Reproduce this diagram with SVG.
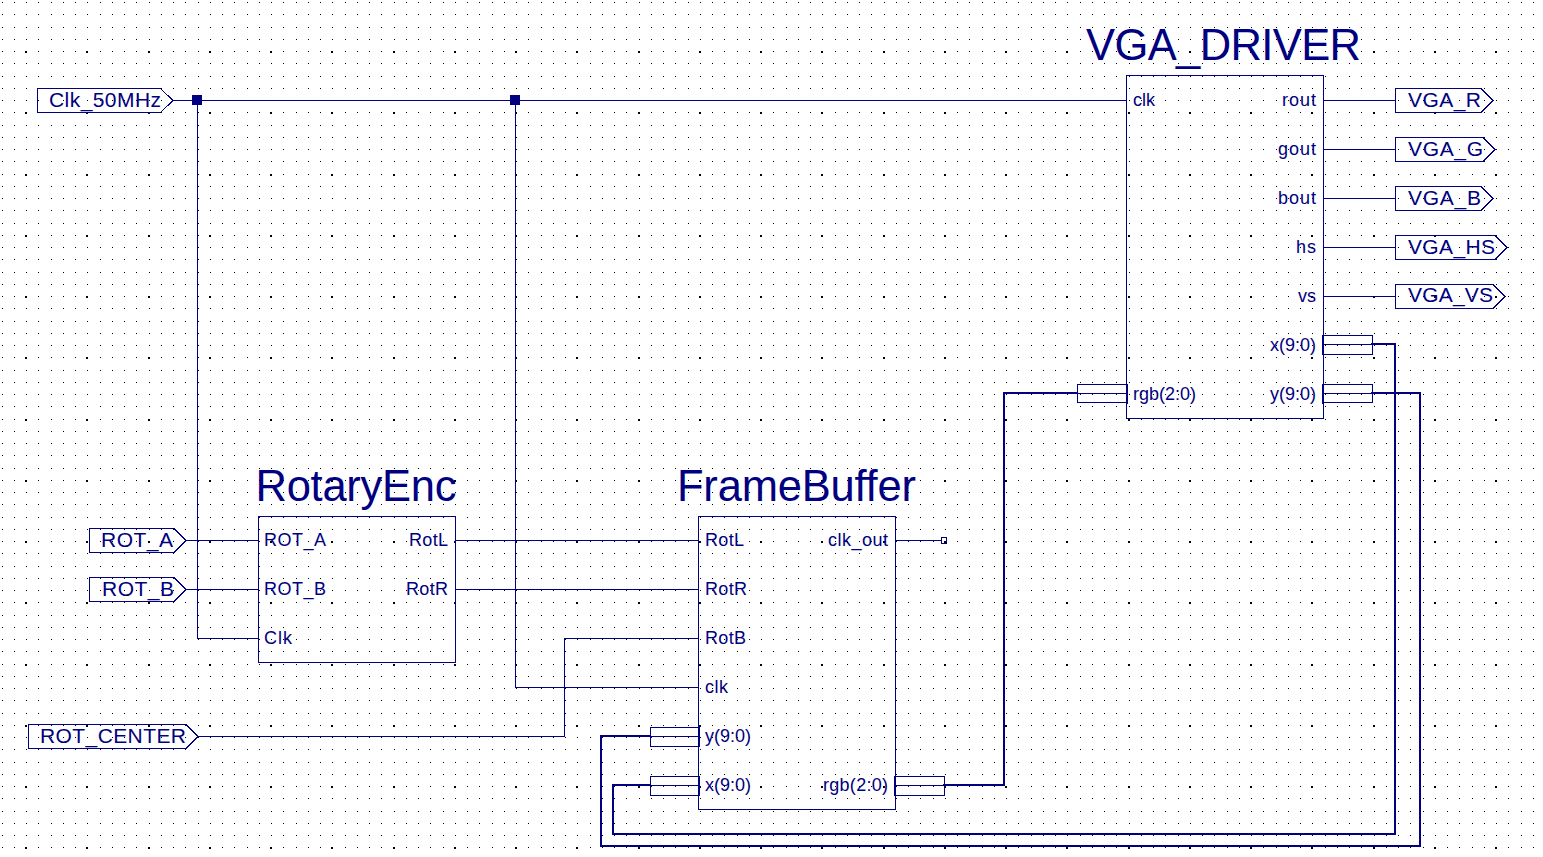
<svg xmlns="http://www.w3.org/2000/svg" width="1543" height="857" viewBox="0 0 1543 857">
<style>
text{font-family:"Liberation Sans",Arial,sans-serif;fill:#000080}
.t{font-size:43.5px}
.p{font-size:18px}
.e{text-anchor:end}
.l{font-size:21px}
.b,.w{fill:none;stroke:#000080;stroke-width:1;shape-rendering:crispEdges}
.bus{fill:none;stroke:#000080;stroke-width:2;shape-rendering:crispEdges}
.edge{fill:none;stroke:#000080;stroke-width:2;shape-rendering:crispEdges}
.j{fill:#000080;shape-rendering:crispEdges}
</style>
<rect width="1543" height="857" fill="#fff"/>
<defs>
<path id="row" d="M1.5 0H1543"/>
</defs>
<g id="grid" shape-rendering="crispEdges" fill="none" stroke="#000">
<g stroke-width="1" stroke-dasharray="1 11.25" id="small">
<use href="#row" y="2.5"/><use href="#row" y="14.75"/><use href="#row" y="27"/><use href="#row" y="39.25"/><use href="#row" y="51.5"/><use href="#row" y="63.75"/><use href="#row" y="76"/><use href="#row" y="88.25"/><use href="#row" y="100.5"/><use href="#row" y="112.75"/><use href="#row" y="125"/><use href="#row" y="137.25"/><use href="#row" y="149.5"/><use href="#row" y="161.75"/><use href="#row" y="174"/><use href="#row" y="186.25"/><use href="#row" y="198.5"/><use href="#row" y="210.75"/><use href="#row" y="223"/><use href="#row" y="235.25"/><use href="#row" y="247.5"/><use href="#row" y="259.75"/><use href="#row" y="272"/><use href="#row" y="284.25"/><use href="#row" y="296.5"/><use href="#row" y="308.75"/><use href="#row" y="321"/><use href="#row" y="333.25"/><use href="#row" y="345.5"/><use href="#row" y="357.75"/><use href="#row" y="370"/><use href="#row" y="382.25"/><use href="#row" y="394.5"/><use href="#row" y="406.75"/><use href="#row" y="419"/><use href="#row" y="431.25"/><use href="#row" y="443.5"/><use href="#row" y="455.75"/><use href="#row" y="468"/><use href="#row" y="480.25"/><use href="#row" y="492.5"/><use href="#row" y="504.75"/><use href="#row" y="517"/><use href="#row" y="529.25"/><use href="#row" y="541.5"/><use href="#row" y="553.75"/><use href="#row" y="566"/><use href="#row" y="578.25"/><use href="#row" y="590.5"/><use href="#row" y="602.75"/><use href="#row" y="615"/><use href="#row" y="627.25"/><use href="#row" y="639.5"/><use href="#row" y="651.75"/><use href="#row" y="664"/><use href="#row" y="676.25"/><use href="#row" y="688.5"/><use href="#row" y="700.75"/><use href="#row" y="713"/><use href="#row" y="725.25"/><use href="#row" y="737.5"/><use href="#row" y="749.75"/><use href="#row" y="762"/><use href="#row" y="774.25"/><use href="#row" y="786.5"/><use href="#row" y="798.75"/><use href="#row" y="811"/><use href="#row" y="823.25"/><use href="#row" y="835.5"/><use href="#row" y="847.75"/>
</g>
<path id="major" stroke-width="2" stroke-dasharray="2 59.25" d="M25 -9H1543M25 52H1543M25 113H1543M25 174.5H1543M25 235.5H1543M25 297H1543M25 358H1543M25 419.5H1543M25 480.5H1543M25 542H1543M25 603H1543M25 664.5H1543M25 725.5H1543M25 787H1543M25 848H1543"/>
</g>
<g id="connectors">
<path class="w" d="M173 100.500H1127M197.500 100V638.500H258.500M515.500 100V687.500H698.500"/>
<path class="w" d="M1323 100.500H1395.500M1323 149.500H1395.500M1323 198.500H1395.500M1323 247.500H1395.500M1323 296.500H1395.500"/>
<path class="w" d="M186 540.500H258.500M186 589.500H258.500M455.500 540.500H698.500M455.500 589.500H698.500M198 736.500H564.500V638.500H698.500M895 540.500H941"/>
<path class="bus" d="M1371 344H1395V834H613V785H650"/>
<path class="bus" d="M1371 393H1420V846H601V736H650"/>
<path class="bus" d="M943 785H1004V393H1078"/>
<rect class="j" x="192" y="95" width="10" height="10"/>
<rect class="j" x="510" y="95" width="10" height="10"/>
<rect x="941.500" y="537.500" width="5" height="6" fill="none" stroke="#000080" stroke-width="1" shape-rendering="crispEdges"/>
</g>
<g id="Clk_50MHz"><path class="b" d="M37.500 88.500H160.500L173 100.500L160.500 112.500H37.500Z"/><text class="l" x="49" y="107" textLength="112">Clk_50MHz</text></g>
<g id="ROT_A"><path class="b" d="M89.500 528.500H174L186 540.500L174 552.500H89.500Z"/><text class="l" x="101" y="547" textLength="72">ROT_A</text></g>
<g id="ROT_B"><path class="b" d="M89.500 577.500H174L186 589.500L174 601.500H89.500Z"/><text class="l" x="102" y="596" textLength="72">ROT_B</text></g>
<g id="ROT_CENTER"><path class="b" d="M28.500 724.500H186L198 736.500L186 748.500H28.500Z"/><text class="l" x="40" y="743" textLength="146">ROT_CENTER</text></g>
<g id="VGA_R"><path class="b" d="M1395.500 88.500H1481L1493 100.500L1481 112.500H1395.500Z"/><text class="l" x="1408" y="107" textLength="73">VGA_R</text></g>
<g id="VGA_G"><path class="b" d="M1395.500 137.500H1483L1495 149.500L1483 161.500H1395.500Z"/><text class="l" x="1408" y="156" textLength="75">VGA_G</text></g>
<g id="VGA_B"><path class="b" d="M1395.500 186.500H1481L1493 198.500L1481 210.500H1395.500Z"/><text class="l" x="1408" y="205" textLength="73">VGA_B</text></g>
<g id="VGA_HS"><path class="b" d="M1395.500 235.500H1495L1507 247.500L1495 259.500H1395.500Z"/><text class="l" x="1408" y="254" textLength="87">VGA_HS</text></g>
<g id="VGA_VS"><path class="b" d="M1395.500 284.500H1493L1505 296.500L1493 308.500H1395.500Z"/><text class="l" x="1408" y="302" textLength="85">VGA_VS</text></g>
<g id="VGA_DRIVER">
<rect class="b" x="1126.500" y="75.500" width="197" height="343"/>
<text class="t" x="1086" y="60" textLength="275">VGA_DRIVER</text>
<text class="p" x="1133" y="106">clk</text>
<text class="p" x="1133" y="400">rgb(2:0)</text>
<text class="p" x="1282" y="106" textLength="34">rout</text><text class="p" x="1278" y="155" textLength="38">gout</text><text class="p" x="1278" y="204" textLength="38">bout</text><text class="p" x="1296" y="253" textLength="20">hs</text><text class="p e" x="1316" y="302">vs</text><text class="p e" x="1316" y="351">x(9:0)</text><text class="p e" x="1316" y="400">y(9:0)</text>
<path class="b" d="M1077.500 384.500H1127V402.500H1077.500ZM1078 393.500H1127M1323 335.500H1372.500V354H1323ZM1323 344.500H1372M1323 384.500H1372.500V402.500H1323ZM1323 393.500H1372"/>
<path class="edge" d="M1127 384V404M1323 335V355M1323 384V404"/>
</g>
<g id="RotaryEnc">
<rect class="b" x="258.500" y="516.500" width="197" height="146"/>
<text class="t" x="255.500" y="501" textLength="201">RotaryEnc</text>
<text class="p" x="264" y="546" textLength="62">ROT_A</text><text class="p" x="264" y="595" textLength="62">ROT_B</text><text class="p" x="264" y="644" textLength="28">Clk</text>
<text class="p" x="409" y="546" textLength="39">RotL</text><text class="p" x="406" y="595" textLength="42">RotR</text>
</g>
<g id="FrameBuffer">
<rect class="b" x="698.500" y="516.500" width="196.500" height="293"/>
<text class="t" x="677" y="501" textLength="239">FrameBuffer</text>
<text class="p" x="705" y="546" textLength="39">RotL</text><text class="p" x="705" y="595" textLength="42">RotR</text><text class="p" x="705" y="644" textLength="41">RotB</text><text class="p" x="705" y="693" textLength="23">clk</text><text class="p" x="705" y="742">y(9:0)</text><text class="p" x="705" y="791">x(9:0)</text>
<text class="p" x="828" y="546" textLength="60">clk_out</text><text class="p" x="823" y="791" textLength="65">rgb(2:0)</text>
<path class="b" d="M650.500 727.500H699V746H650.500ZM650 736.500H699M650.500 776.500H699V795H650.500ZM650 785.500H699M895 776.500H944.500V795H895ZM895 785.500H944"/>
<path class="edge" d="M699 727V747M699 776V796M895 776V796"/>
</g>
</svg>
